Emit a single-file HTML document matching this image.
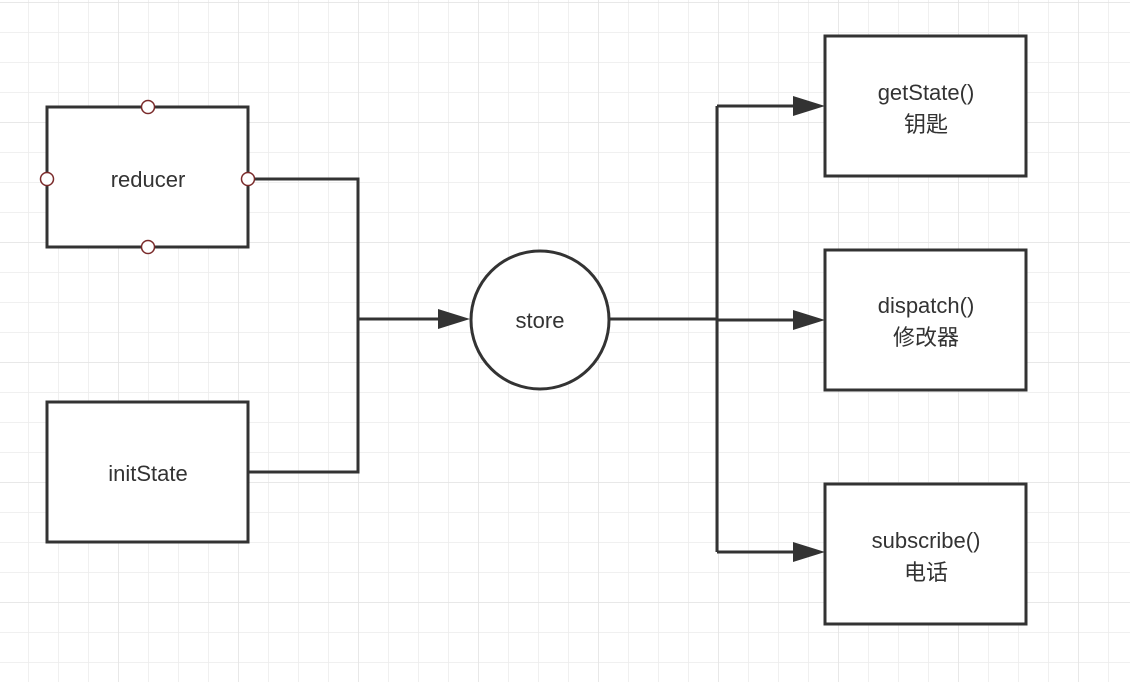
<!DOCTYPE html>
<html><head><meta charset="utf-8"><style>
html,body{margin:0;padding:0;background:#fff}
svg{display:block}
text{font-family:"Liberation Sans","Noto Sans CJK SC",sans-serif;font-size:22px;fill:#333;text-anchor:middle}
</style></head><body>
<svg width="1130" height="682" viewBox="0 0 1130 682" xmlns="http://www.w3.org/2000/svg">
<defs>
<pattern id="g" x="-1" y="3" width="30" height="30" patternUnits="userSpaceOnUse">
<path d="M30 0V30M0 30H30" stroke="#ececec" stroke-width="1.5" fill="none"/>
</pattern>
<pattern id="G" x="-1" y="3" width="120" height="120" patternUnits="userSpaceOnUse">
<path d="M120 0V120M0 120H120" stroke="#e3e3e3" stroke-width="1.5" fill="none"/>
</pattern>
</defs>
<rect width="1130" height="682" fill="url(#g)"/>
<rect width="1130" height="682" fill="url(#G)"/>
<g stroke="#333" stroke-width="3" fill="none">
<path d="M248 179H358V472H248"/>
<path d="M358 319H440"/>
<path d="M610 319H717"/>
<path d="M717 106V552"/>
<path d="M717 106H795M717 320H795M717 552H795"/>
</g>
<g fill="#333">
<path d="M470 319L438 309L438 329Z"/>
<path d="M825 106L793 96L793 116Z"/>
<path d="M825 320L793 310L793 330Z"/>
<path d="M825 552L793 542L793 562Z"/>
</g>
<g stroke="#333" stroke-width="3" fill="#fff">
<rect x="47" y="107" width="201" height="140"/>
<rect x="47" y="402" width="201" height="140"/>
<circle cx="540" cy="320" r="69"/>
<rect x="825" y="36" width="201" height="140"/>
<rect x="825" y="250" width="201" height="140"/>
<rect x="825" y="484" width="201" height="140"/>
</g>
<g stroke="#7a2a2a" stroke-width="1.5" fill="#fff">
<circle cx="148" cy="107" r="6.5"/>
<circle cx="148" cy="247" r="6.5"/>
<circle cx="47" cy="179" r="6.5"/>
<circle cx="248" cy="179" r="6.5"/>
</g>
<text x="148" y="187">reducer</text>
<text x="148" y="481">initState</text>
<text x="540" y="328">store</text>
<text x="926" y="100">getState()</text>
<text x="926" y="132">钥匙</text>
<text x="926" y="313">dispatch()</text>
<text x="926" y="345">修改器</text>
<text x="926" y="548">subscribe()</text>
<text x="926" y="580">电话</text>
</svg>
</body></html>
